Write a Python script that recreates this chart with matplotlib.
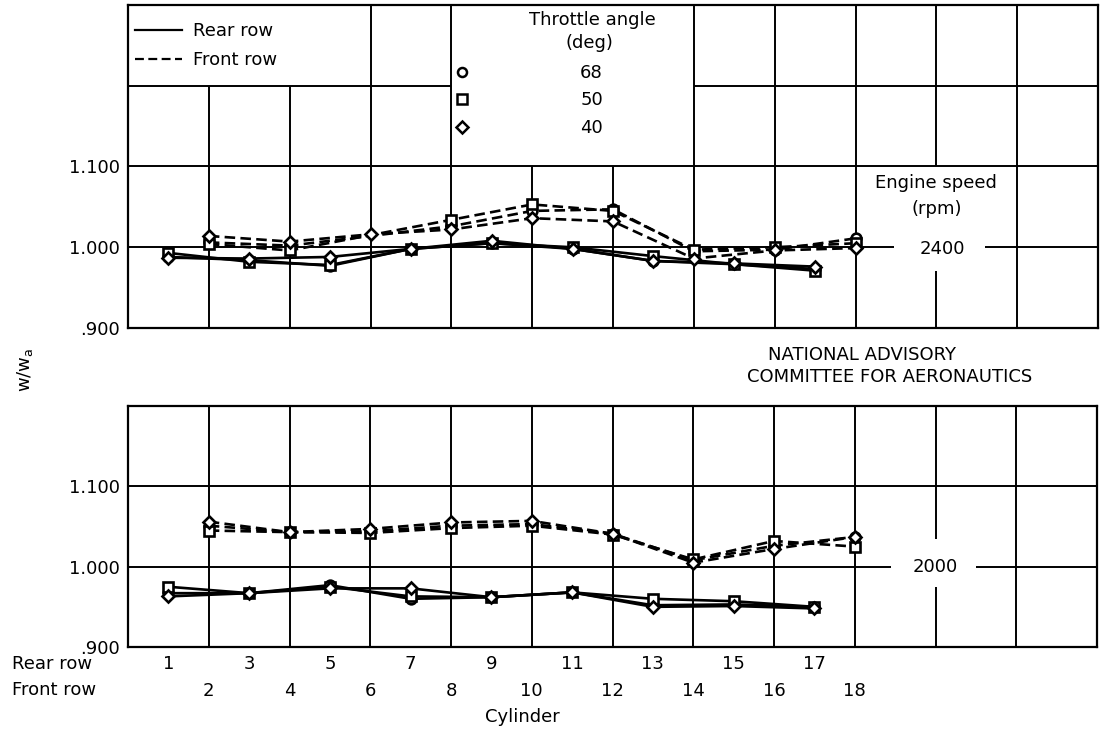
import matplotlib.pyplot as plt
from matplotlib.lines import Line2D

# Cylinder numbering: rear row odd, front row even
rear_cyl = [1, 3, 5, 7, 9, 11, 13, 15, 17]
front_cyl = [2, 4, 6, 8, 10, 12, 14, 16, 18]
front_cyl_2400 = [2, 4, 8, 10, 12, 14, 16, 18]  # no 68/50 deg points at cylinder 6

rear_labels = ['1', '3', '5', '7', '9', '11', '13', '15', '17']
front_labels = ['2', '4', '6', '8', '10', '12', '14', '16', '18']

throttle_angles = ['68', '50', '40']

# 2400 rpm, w/wa per cylinder (68, 50, 40 deg throttle)
rear_2400_68 = [0.988, 0.984, 0.977, 0.998, 1.005, 0.998, 0.983, 0.979, 0.973]
rear_2400_50 = [0.993, 0.982, 0.978, 0.998, 1.005, 1.000, 0.989, 0.979, 0.971]
rear_2400_40 = [0.987, 0.986, 0.988, 0.998, 1.008, 0.998, 0.983, 0.980, 0.976]
front_2400_68 = [1.006, 1.002, 1.026, 1.045, 1.047, 0.995, 0.997, 1.011]
front_2400_50 = [1.004, 0.996, 1.034, 1.053, 1.045, 0.997, 1.000, 1.005]
front_2400_40 = [1.014, 1.007, 1.016, 1.022, 1.036, 1.032, 0.986, 0.996, 0.999]

# 2000 rpm
rear_2000_68 = [0.967, 0.967, 0.977, 0.960, 0.962, 0.968, 0.952, 0.953, 0.950]
rear_2000_50 = [0.975, 0.967, 0.975, 0.963, 0.962, 0.968, 0.960, 0.957, 0.950]
rear_2000_40 = [0.963, 0.967, 0.973, 0.973, 0.962, 0.968, 0.950, 0.951, 0.948]
front_2000_68 = [1.051, 1.043, 1.044, 1.051, 1.053, 1.041, 1.008, 1.026, 1.037]
front_2000_50 = [1.045, 1.043, 1.042, 1.048, 1.051, 1.040, 1.009, 1.032, 1.025]
front_2000_40 = [1.056, 1.043, 1.047, 1.055, 1.057, 1.041, 1.005, 1.022, 1.037]

MARKERS = ['o', 's', 'D']
MSIZE = [7, 6.5, 6.5]
DASH = (0, (4, 2))
FS = 13
W, H = 1101, 733

plt.rcParams['font.family'] = 'DejaVu Sans'

fig = plt.figure(figsize=(W / 100, H / 100), dpi=100)


def axes_px(left, top, right, bottom):
    return fig.add_axes([left / W, 1 - bottom / H, (right - left) / W, (bottom - top) / H])


def draw_grid(ax, hlines, vlines):
    # hand-drawn chart grid with the gaps left for the boxed labels
    for y, spans in hlines:
        for x0, x1 in spans:
            ax.plot([x0, x1], [y, y], color='black', lw=1.4, zorder=1, solid_capstyle='butt')
    for x, spans in vlines:
        for y0, y1 in spans:
            ax.plot([x, x], [y0, y1], color='black', lw=1.4, zorder=1, solid_capstyle='butt')


def plot_rows(ax, rear_sets, front_x_sets, front_sets):
    for ys, m, ms in zip(rear_sets, MARKERS, MSIZE):
        ax.plot(rear_cyl, ys, '-', color='black', lw=1.9, marker=m, ms=ms,
                mfc='white', mec='black', mew=1.9, zorder=3)
    for xs, ys, m, ms in zip(front_x_sets, front_sets, MARKERS, MSIZE):
        ax.plot(xs, ys, linestyle=DASH, color='black', lw=1.9, marker=m, ms=ms,
                mfc='white', mec='black', mew=1.9, zorder=3)


def style_axes(ax, ymax):
    ax.set_xlim(0, 24)
    ax.set_ylim(0.9, ymax)
    for s in ax.spines.values():
        s.set_linewidth(1.6)
    ax.set_yticks([0.9, 1.0, 1.1], ['.900', '1.000', '1.100'])
    ax.tick_params(axis='y', length=0, pad=6, labelsize=FS)


# ---- upper panel: 2400 rpm ----
ax_top = axes_px(128, 5, 1098, 328)
style_axes(ax_top, 1.3)
ax_top.set_xticks([])
draw_grid(ax_top,
          hlines=[(1.2, [(0, 8), (14, 24)]),
                  (1.1, [(0, 24)]),
                  (1.0, [(0, 18.95), (21.2, 24)])],
          vlines=[(2, [(0.9, 1.2)]), (4, [(0.9, 1.2)]),
                  (6, [(0.9, 1.3)]), (8, [(0.9, 1.3)]),
                  (10, [(0.9, 1.1)]), (12, [(0.9, 1.1)]),
                  (14, [(0.9, 1.3)]), (16, [(0.9, 1.3)]), (18, [(0.9, 1.3)]),
                  (20, [(0.9, 0.97), (1.1, 1.3)]), (22, [(0.9, 1.3)])])
plot_rows(ax_top, [rear_2400_68, rear_2400_50, rear_2400_40],
          [front_cyl_2400, front_cyl_2400, front_cyl],
          [front_2400_68, front_2400_50, front_2400_40])

ax_top.text(20.0, 1.079, 'Engine speed', ha='center', va='center', fontsize=FS)
ax_top.text(20.0, 1.047, '(rpm)', ha='center', va='center', fontsize=FS)
ax_top.text(20.15, 0.998, '2400', ha='center', va='center', fontsize=FS)

# row-style legend
row_handles = [Line2D([], [], color='black', lw=1.6),
               Line2D([], [], color='black', lw=1.6, linestyle=DASH)]
leg1 = ax_top.legend(row_handles, ['Rear row', 'Front row'], loc='upper left',
                     bbox_to_anchor=(0.007, 0.947), frameon=False, fontsize=FS,
                     borderpad=0, borderaxespad=0, handlelength=2.6,
                     handletextpad=0.6, labelspacing=0.6)
ax_top.add_artist(leg1)

# throttle-angle legend
ax_top.text(0.479, 0.954, 'Throttle angle', transform=ax_top.transAxes,
            ha='center', va='center', fontsize=FS)
ax_top.text(0.476, 0.882, '(deg)', transform=ax_top.transAxes,
            ha='center', va='center', fontsize=FS)
mk_handles = [Line2D([], [], linestyle='none', marker=m, ms=6.5, mfc='white',
                     mec='black', mew=1.8) for m in MARKERS]
ax_top.legend(mk_handles, throttle_angles, loc='upper left',
              bbox_to_anchor=(0.335, 0.817), frameon=False, fontsize=FS,
              borderpad=0, borderaxespad=0, handlelength=0.95,
              handletextpad=6.1, labelspacing=0.52)

# ---- lower panel: 2000 rpm ----
ax_bot = axes_px(128, 406, 1097, 647)
style_axes(ax_bot, 1.2)
draw_grid(ax_bot,
          hlines=[(1.1, [(0, 24)]),
                  (1.0, [(0, 18.9), (21.0, 24)])],
          vlines=[(x, [(0.9, 1.2)]) for x in [2, 4, 6, 8, 10, 12, 14, 16, 18, 22]]
          + [(20, [(0.9, 0.975), (1.035, 1.2)])])
plot_rows(ax_bot, [rear_2000_68, rear_2000_50, rear_2000_40],
          [front_cyl, front_cyl, front_cyl],
          [front_2000_68, front_2000_50, front_2000_40])
ax_bot.text(20.0, 1.0, '2000', ha='center', va='center', fontsize=FS)

ax_bot.set_xticks(rear_cyl, rear_labels)
ax_bot.set_xticks(front_cyl, front_labels, minor=True)
ax_bot.tick_params(axis='x', which='major', length=0, pad=6, labelsize=FS)
ax_bot.tick_params(axis='x', which='minor', length=0, pad=25, labelsize=FS)

# ---- figure texts ----
fig.text(12 / W, 1 - 664 / H, 'Rear row', ha='left', va='center', fontsize=FS)
fig.text(12 / W, 1 - 690 / H, 'Front row', ha='left', va='center', fontsize=FS)
fig.text(522 / W, 1 - 717 / H, 'Cylinder', ha='center', va='center', fontsize=FS)
fig.text(25 / W, 1 - 370 / H, r'w/w$_\mathregular{a}$', rotation=90,
         ha='center', va='center', fontsize=FS)
fig.text(862 / W, 1 - 355 / H, 'NATIONAL ADVISORY', ha='center', va='center', fontsize=FS)
fig.text(890 / W, 1 - 377 / H, 'COMMITTEE FOR AERONAUTICS', ha='center', va='center',
         fontsize=FS)

fig.savefig('out.png', dpi=100)
